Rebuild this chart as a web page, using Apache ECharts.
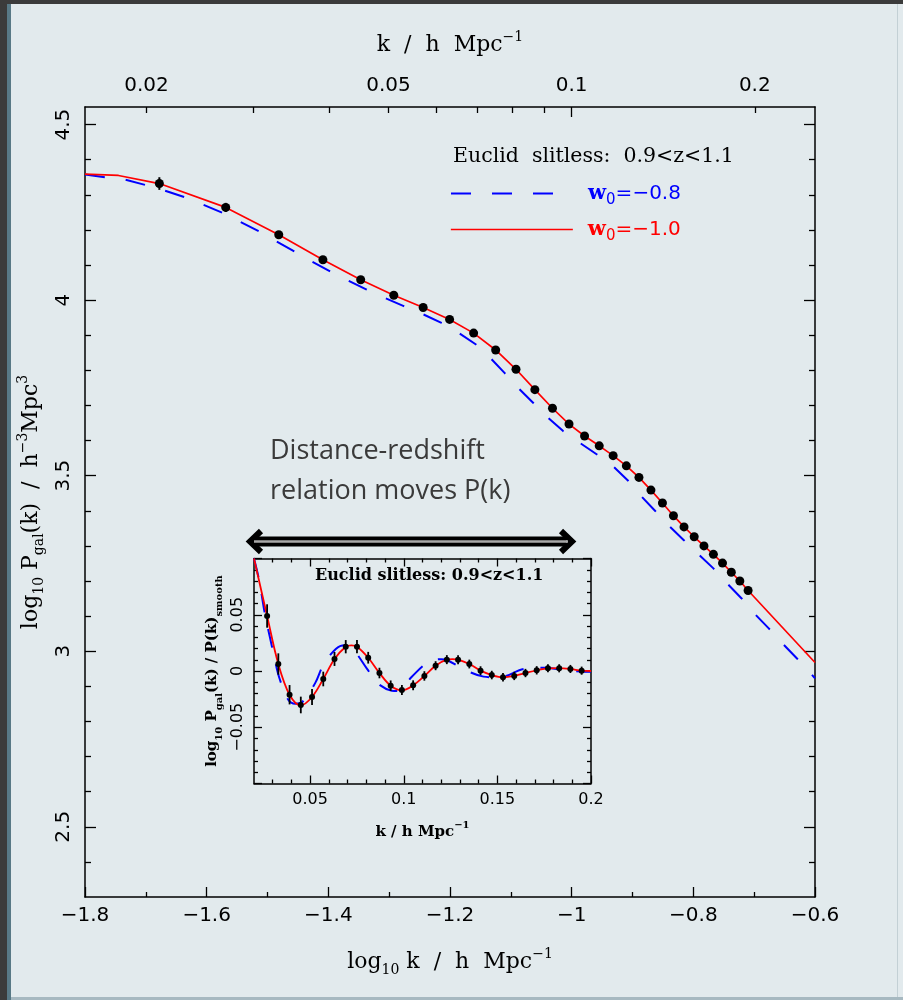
<!DOCTYPE html>
<html><head><meta charset="utf-8">
<script src="https://cdn.jsdelivr.net/npm/echarts@6/dist/echarts.min.js"></script>
<style>html,body{margin:0;padding:0;background:#e2eaed}#c{width:903px;height:1000px}</style>
</head><body><div id="c"></div>
<script>
// ---------- DATA ----------
// main panel: measured points (k in h/Mpc, log10 P)
const mainK = [0.021,0.027,0.033,0.039,0.045,0.051,0.057,0.063,0.069,0.075,0.081,0.087,0.093,0.099,0.105,0.111,0.117,0.123,0.129,0.135,0.141,0.147,0.153,0.159,0.165,0.171,0.177,0.183,0.189,0.195];
const mainLogP = [4.332,4.264,4.186,4.115,4.058,4.014,3.979,3.945,3.906,3.858,3.803,3.745,3.692,3.647,3.613,3.585,3.557,3.528,3.495,3.459,3.422,3.386,3.354,3.326,3.300,3.276,3.251,3.225,3.200,3.173];
const mainErr = [0.018,0.013,0.010,0.009,0.008,0.007,0.006,0.006,0.005,0.005,0.005,0.005,0.004,0.004,0.004,0.004,0.004,0.004,0.004,0.004,0.003,0.003,0.003,0.003,0.003,0.003,0.003,0.003,0.003,0.003];
// main panel: w0=-1.0 model (red) extra ends beyond the points
const redHeadLogK = [-1.800,-1.745];
const redHeadLogP = [4.359,4.355];
const redTailLogK = [-0.600];
const redTailLogP = [2.968];
// main panel: w0=-0.8 model (blue dashed)
const blueLogK = [-1.800,-1.767,-1.734,-1.701,-1.669,-1.636,-1.606,-1.573,-1.545,-1.514,-1.485,-1.456,-1.427,-1.397,-1.368,-1.337,-1.307,-1.276,-1.246,-1.214,-1.186,-1.156,-1.133,-1.110,-1.088,-1.063,-1.040,-1.014,-0.987,-0.959,-0.932,-0.908,-0.886,-0.863,-0.840,-0.816,-0.792,-0.767,-0.745,-0.721,-0.700,-0.676,-0.654,-0.630,-0.600];
const blueLogP = [4.358,4.350,4.343,4.328,4.312,4.293,4.272,4.248,4.223,4.196,4.167,4.139,4.110,4.082,4.056,4.030,4.006,3.983,3.961,3.935,3.907,3.872,3.834,3.792,3.750,3.707,3.667,3.627,3.594,3.561,3.527,3.487,3.442,3.400,3.357,3.317,3.277,3.236,3.194,3.151,3.108,3.065,3.023,2.980,2.923];
// inset: measured ratio points
const insetK = [0.027,0.033,0.039,0.045,0.051,0.057,0.063,0.069,0.075,0.081,0.087,0.093,0.099,0.105,0.111,0.117,0.123,0.129,0.135,0.141,0.147,0.153,0.159,0.165,0.171,0.177,0.183,0.189,0.195];
const insetRatio = [0.0489,0.0062,-0.0211,-0.0302,-0.0231,-0.0071,0.0107,0.0216,0.0216,0.0118,-0.0018,-0.0131,-0.0169,-0.0127,-0.0044,0.0047,0.0101,0.0101,0.0062,0.0003,-0.0036,-0.0056,-0.0044,-0.0018,0.0006,0.0024,0.0024,0.0018,0.0003];
const insetErr = [0.0104,0.0095,0.0086,0.0074,0.0071,0.0065,0.0062,0.0059,0.0059,0.0052,0.0047,0.0047,0.0044,0.0044,0.0042,0.0040,0.0040,0.0040,0.0039,0.0039,0.0038,0.0038,0.0037,0.0037,0.0037,0.0036,0.0036,0.0036,0.0036];
// inset: models
const insetRedK = [0.020,0.027,0.033,0.039,0.045,0.051,0.057,0.063,0.069,0.072,0.075,0.081,0.087,0.093,0.099,0.105,0.111,0.117,0.123,0.126,0.129,0.135,0.141,0.147,0.153,0.159,0.165,0.171,0.177,0.183,0.189,0.195,0.200];
const insetRedV = [0.100,0.0489,0.0062,-0.0211,-0.0305,-0.0231,-0.0071,0.0107,0.0216,0.0228,0.0216,0.0118,-0.0018,-0.0131,-0.0172,-0.0127,-0.0044,0.0047,0.0101,0.0106,0.0101,0.0062,0.0003,-0.0036,-0.0056,-0.0044,-0.0018,0.0006,0.0024,0.0026,0.0018,0.0003,0.0000];
const insetBlueK = [0.0200,0.0227,0.0259,0.0285,0.0310,0.0335,0.0383,0.0420,0.0458,0.0526,0.0570,0.0637,0.0685,0.0731,0.0802,0.0861,0.0936,0.0965,0.1043,0.1114,0.1168,0.1200,0.1230,0.1328,0.1426,0.1480,0.1533,0.1640,0.1756,0.1853,0.1969,0.2000];
const insetBlueV = [0.1000,0.0810,0.0500,0.0300,0.0110,-0.0060,-0.0255,-0.0290,-0.0275,-0.0110,0.0053,0.0196,0.0228,0.0187,0.0024,-0.0110,-0.0175,-0.0178,-0.0051,0.0060,0.0100,0.0105,0.0098,0.0009,-0.0050,-0.0055,-0.0050,0.0018,0.0029,0.0009,-0.0006,-0.0006];
// tick labels
const topLabelK = [0.02,0.05,0.1,0.2];
const topShortTickK = [0.02,0.03,0.04,0.05,0.06,0.07,0.08,0.09,0.2];
const topLongTickK = [0.1];
const mainYMajor = [2.5,3,3.5,4,4.5];
const insetXMajor = [0.05,0.1,0.15,0.2];

// ---------- helpers ----------
const SERIF = '"DejaVu Serif", serif';
const SANS = '"DejaVu Sans", sans-serif';
const BLUE = '#0000ff', RED = '#ff0000';
const mainYMinor = [];
for (let i = 24; i <= 45; i++) { const v = i / 10; if (i % 5 !== 0) mainYMinor.push(v); }
const insetXMinor = [];
for (let i = 3; i <= 19; i++) { if (i % 5 !== 0) insetXMinor.push(i / 100); }
const lg = Math.log10;
const minus = s => String(s).replace('-', '\u2212');

function rich(size, bold) {
  const fw = bold ? 'bold' : 'normal';
  const sub = Math.round(size * 0.65);
  return {
    n: {fontFamily: SERIF, fontSize: size, fontWeight: fw, color: '#000', lineHeight: size + 8, verticalAlign: 'middle'},
    s: {fontFamily: SERIF, fontSize: sub, fontWeight: fw, color: '#000', lineHeight: sub, verticalAlign: 'bottom'},
    p: {fontFamily: SERIF, fontSize: sub, fontWeight: fw, color: '#000', lineHeight: sub, verticalAlign: 'top'}
  };
}
const LINE = {show: true, onZero: false, lineStyle: {color: '#000', width: 1.5}};
const NOLINE = {show: false, onZero: false};
function tick(len, custom) {
  const t = {show: true, inside: true, length: len, lineStyle: {color: '#000', width: 1.3}};
  if (custom) t.customValues = custom;
  return t;
}
function vAxis(o) {
  return Object.assign({type: 'value', splitLine: {show: false}, axisLine: NOLINE, axisTick: {show: false},
    axisLabel: {show: false}, minorTick: {show: false}, minorSplitLine: {show: false}}, o);
}

const xAxis = [
  // main bottom
  vAxis({gridIndex: 0, position: 'bottom', min: -1.8, max: -0.6, interval: 0.2, axisLine: LINE,
    axisTick: tick(10), minorTick: {show: true, splitNumber: 2, length: 5, lineStyle: {color: '#000', width: 1.3}},
    axisLabel: {show: true, margin: 9, color: '#000', fontFamily: SANS, fontSize: 20,
      formatter: v => minus(Math.round(v * 10) / 10)},
    name: '{n|log}{s|10}{n| k  /  h  Mpc}{p|\u22121}', nameLocation: 'middle', nameGap: 50,
    nameTextStyle: {rich: rich(22, false)}}),
  // main top (k)
  vAxis({gridIndex: 0, position: 'top', min: -1.8, max: -0.6, axisLine: LINE,
    axisTick: tick(6, topShortTickK.map(lg)),
    axisLabel: {show: true, margin: 11, color: '#000', fontFamily: SANS, fontSize: 20,
      customValues: topLabelK.map(lg), formatter: v => String(Number(Math.pow(10, v).toPrecision(2)))},
    name: '{n|k  /  h  Mpc}{p|\u22121}', nameLocation: 'middle', nameGap: 47,
    nameTextStyle: {rich: rich(22, false)}}),
  vAxis({gridIndex: 0, position: 'top', min: -1.8, max: -0.6, axisTick: tick(10, topLongTickK.map(lg))}),
  // inset bottom
  vAxis({gridIndex: 1, position: 'bottom', min: 0.02, max: 0.2, axisLine: LINE,
    axisTick: tick(8, insetXMajor),
    axisLabel: {show: true, margin: 8, color: '#000', fontFamily: SANS, fontSize: 16,
      customValues: insetXMajor, formatter: v => String(Math.round(v * 100) / 100)},
    name: '{n|k / h Mpc}{p|\u22121}', nameLocation: 'middle', nameGap: 37,
    nameTextStyle: {rich: rich(15, true)}}),
  vAxis({gridIndex: 1, position: 'bottom', min: 0.02, max: 0.2, axisTick: tick(4, insetXMinor)}),
  vAxis({gridIndex: 1, position: 'top', min: 0.02, max: 0.2, axisLine: LINE, axisTick: tick(8, insetXMajor)}),
  vAxis({gridIndex: 1, position: 'top', min: 0.02, max: 0.2, axisTick: tick(4, insetXMinor)})
];

const yAxis = [
  vAxis({gridIndex: 0, position: 'left', min: 2.3, max: 4.55, axisLine: LINE,
    axisTick: tick(11, mainYMajor),
    axisLabel: {show: true, margin: 11, rotate: 90, color: '#000', fontFamily: SANS, fontSize: 20,
      customValues: mainYMajor, formatter: v => String(v)},
    name: '{n|log}{s|10}{n| P}{s|gal}{n|(k)  /  h}{p|\u22123}{n|Mpc}{p|3}', nameLocation: 'middle', nameRotate: 90,
    nameGap: 26, nameTextStyle: {rich: rich(22, false)}}),
  vAxis({gridIndex: 0, position: 'left', min: 2.3, max: 4.55, axisTick: tick(6, mainYMinor)}),
  vAxis({gridIndex: 0, position: 'right', min: 2.3, max: 4.55, axisLine: LINE, axisTick: tick(11, mainYMajor)}),
  vAxis({gridIndex: 0, position: 'right', min: 2.3, max: 4.55, axisTick: tick(6, mainYMinor)}),
  // inset
  vAxis({gridIndex: 1, position: 'left', min: -0.1, max: 0.1, interval: 0.05, axisLine: LINE,
    axisTick: tick(8), minorTick: {show: true, splitNumber: 5, length: 4, lineStyle: {color: '#000', width: 1.3}},
    axisLabel: {show: true, margin: 8, rotate: 90, color: '#000', fontFamily: SANS, fontSize: 16,
      showMinLabel: false, showMaxLabel: false, formatter: v => minus(Math.round(v * 100) / 100)},
    name: '{n|log}{s|10}{n| P}{s|gal}{n|(k) / P(k)}{s|smooth}', nameLocation: 'middle', nameRotate: 90,
    nameGap: 30, nameTextStyle: {rich: rich(15, true)}}),
  vAxis({gridIndex: 1, position: 'right', min: -0.1, max: 0.1, interval: 0.05, axisLine: LINE,
    axisTick: tick(8), minorTick: {show: true, splitNumber: 5, length: 4, lineStyle: {color: '#000', width: 1.3}}})
];

const zip = (a, b) => a.map((v, i) => [v, b[i]]);
const errBar = (lw) => function (params, api) {
  const x = api.value(0), y = api.value(1), e = api.value(2);
  const p1 = api.coord([x, y - e]), p2 = api.coord([x, y + e]);
  return {type: 'line', shape: {x1: p1[0], y1: p1[1], x2: p2[0], y2: p2[1]},
    style: {stroke: '#000', lineWidth: lw}};
};

const redMain = zip(redHeadLogK, redHeadLogP)
  .concat(zip(mainK.map(lg), mainLogP))
  .concat(zip(redTailLogK, redTailLogP));

const series = [
  {name: 'w0=-0.8', type: 'line', xAxisIndex: 0, yAxisIndex: 0, data: zip(blueLogK, blueLogP), symbol: 'none',
    lineStyle: {color: BLUE, width: 2, type: [20, 21]}, itemStyle: {color: BLUE}, z: 2},
  {name: 'w0=-1.0', type: 'line', xAxisIndex: 0, yAxisIndex: 0, data: redMain, symbol: 'none',
    lineStyle: {color: RED, width: 1.7}, itemStyle: {color: RED}, z: 3},
  {name: 'errMain', type: 'custom', xAxisIndex: 0, yAxisIndex: 0, renderItem: errBar(2),
    data: mainK.map((k, i) => [lg(k), mainLogP[i], mainErr[i]]), encode: {x: 0, y: 1}, z: 4},
  {name: 'ptsMain', type: 'scatter', xAxisIndex: 0, yAxisIndex: 0, data: zip(mainK.map(lg), mainLogP),
    symbol: 'circle', symbolSize: 9, itemStyle: {color: '#000', opacity: 1}, z: 5},
  // inset
  {name: 'insetBlue', type: 'line', xAxisIndex: 3, yAxisIndex: 4, data: zip(insetBlueK, insetBlueV), symbol: 'none',
    smooth: 0.35, lineStyle: {color: BLUE, width: 2, type: [19, 17]}, z: 2},
  {name: 'insetRed', type: 'line', xAxisIndex: 3, yAxisIndex: 4, data: zip(insetRedK, insetRedV), symbol: 'none',
    smooth: 0.35, lineStyle: {color: RED, width: 1.8}, z: 3},
  {name: 'errInset', type: 'custom', xAxisIndex: 3, yAxisIndex: 4, renderItem: errBar(1.8),
    data: insetK.map((k, i) => [k, insetRatio[i], insetErr[i]]), encode: {x: 0, y: 1}, z: 4},
  {name: 'ptsInset', type: 'scatter', xAxisIndex: 3, yAxisIndex: 4, data: zip(insetK, insetRatio),
    symbol: 'circle', symbolSize: 6, itemStyle: {color: '#000', opacity: 1}, z: 5}
];

function legendRich(color) {
  return {
    w: {fontFamily: SERIF, fontSize: 21, fontWeight: 'bold', color: color, lineHeight: 28, verticalAlign: 'middle'},
    s: {fontFamily: SANS, fontSize: 15, color: color, lineHeight: 15, verticalAlign: 'bottom'},
    t: {fontFamily: SANS, fontSize: 20, color: color, lineHeight: 28, verticalAlign: 'middle'}
  };
}

const option = {
  animation: false,
  backgroundColor: '#e2eaed',
  grid: [
    {left: 85, top: 107, width: 730, height: 790, containLabel: false},
    {left: 254, top: 558.5, width: 337, height: 225, containLabel: false}
  ],
  xAxis, yAxis, series,
  title: [
    {text: 'Euclid  slitless:  0.9<z<1.1', left: 448, top: 141,
      textStyle: {fontFamily: SERIF, fontSize: 20.5, fontWeight: 'normal', color: '#000'}},
    {text: 'Euclid slitless: 0.9<z<1.1', left: 310, top: 563,
      textStyle: {fontFamily: SERIF, fontSize: 16, fontWeight: 'bold', color: '#000'}}
  ],
  legend: [
    {data: ['w0=-0.8'], left: 450, top: 183, padding: 0, itemWidth: 103, itemHeight: 14, selectedMode: false,
      lineStyle: {type: [20, 21], width: 2, color: BLUE}, itemStyle: {opacity: 0},
      formatter: () => '{w|w}{s|0}{t|=\u22120.8}',
      textStyle: {padding: [0, 0, 0, 29], rich: legendRich(BLUE)}},
    {data: ['w0=-1.0'], left: 450, top: 219, padding: 0, itemWidth: 122, itemHeight: 14, selectedMode: false,
      lineStyle: {width: 1.7, color: RED}, itemStyle: {opacity: 0},
      formatter: () => '{w|w}{s|0}{t|=\u22121.0}',
      textStyle: {padding: [0, 0, 0, 10], rich: legendRich(RED)}}
  ],
  graphic: [
    // slide frame
    {type: 'rect', shape: {x: 0, y: 0, width: 7, height: 1000}, style: {fill: '#3b3b3b'}, silent: true},
    {type: 'rect', shape: {x: 7, y: 0, width: 4, height: 1000}, style: {fill: '#587986'}, silent: true},
    {type: 'rect', shape: {x: 0, y: 0, width: 903, height: 4}, style: {fill: '#3b3b3b'}, silent: true},
    {type: 'rect', shape: {x: 897, y: 4, width: 1, height: 996}, style: {fill: '#c3d0d5'}, silent: true},
    {type: 'rect', shape: {x: 11, y: 997, width: 892, height: 3}, style: {fill: '#a7b9c1'}, silent: true},
    // annotation text
    {type: 'text', left: 270, top: 438, style: {text: 'Distance-redshift', fontFamily: '"Open Sans", sans-serif',
      fontSize: 27, fill: '#3a3a3a'}, silent: true},
    {type: 'text', left: 270, top: 478, style: {text: 'relation moves P(k)', fontFamily: '"Open Sans", sans-serif',
      fontSize: 27, fill: '#3a3a3a'}, silent: true},
    // double arrow
    {type: 'polyline', shape: {points: [[254, 541.5], [566, 541.5]]}, style: {stroke: '#000', lineWidth: 10}, silent: true},
    {type: 'polyline', shape: {points: [[261, 531], [250, 541.5], [261, 552]]},
      style: {stroke: '#000', lineWidth: 6, lineJoin: 'miter', fill: null}, silent: true},
    {type: 'polyline', shape: {points: [[561, 531], [572, 541.5], [561, 552]]},
      style: {stroke: '#000', lineWidth: 6, lineJoin: 'miter', fill: null}, silent: true},
    {type: 'polyline', shape: {points: [[254, 541.5], [568, 541.5]]}, style: {stroke: '#a8a8a8', lineWidth: 2.5}, silent: true}
  ]
};

const chart = echarts.init(document.getElementById('c'), null, {renderer: 'canvas'});
chart.setOption(option);
</script></body></html>
